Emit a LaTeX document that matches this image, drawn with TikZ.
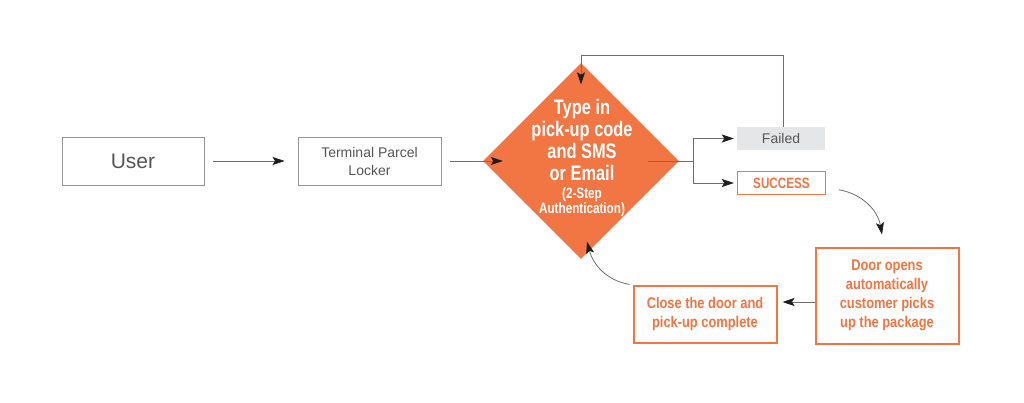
\documentclass[tikz,border=0pt]{standalone}
\usepackage{fontspec}
\setmainfont{Liberation Sans}
\newfontfamily\condbold[FakeStretch=0.83]{Liberation Sans Bold}
\newfontfamily\narrowbold[FakeStretch=0.78]{Liberation Sans Bold}
\usetikzlibrary{shapes.geometric,arrows.meta}
\definecolor{orng}{RGB}{241,118,68}
\definecolor{lgray}{RGB}{229,230,231}
\definecolor{tgray}{RGB}{85,85,85}
\definecolor{bgray}{RGB}{150,150,150}
\definecolor{lnc}{RGB}{110,110,110}
\definecolor{tipc}{RGB}{30,30,30}
\tikzset{
  graybox/.style={draw=bgray, line width=0.9pt, text=tgray, align=center, inner sep=0pt},
  orangebox/.style={draw=orng, line width=2pt, text=orng, align=center, inner sep=0pt, font=\condbold\fontsize{15.5}{19}\selectfont},
  conn/.style={draw=lnc, line width=0.8pt, -{Stealth[length=12pt,width=8pt,inset=2.5pt,color=tipc]}},
}
\begin{document}
\begin{tikzpicture}[x=1pt,y=-1pt]
\fill[white] (0,0) rectangle (1024,403);
\useasboundingbox (0,0) rectangle (1024,403);
% nodes
\node[graybox, minimum width=142pt, minimum height=48pt, font=\fontsize{21}{24}\selectfont] (user) at (133,161) {User};
\node[graybox, minimum width=143pt, minimum height=48pt, font=\fontsize{14}{18}\selectfont] (term) at (369.5,161) {Terminal Parcel\\Locker};
\node[diamond, fill=orng, minimum width=196pt, minimum height=196pt, inner sep=0pt] (dia) at (581,161) {};
\node[text=white, align=center, inner sep=0pt, font=\narrowbold\fontsize{21}{22}\selectfont] (diatext) at (582,140) {Type in\\pick-up code\\and SMS\\or Email};
\node[text=white, align=center, inner sep=0pt, font=\narrowbold\fontsize{15}{15}\selectfont, anchor=north] (diasub) at ([yshift=-7pt]diatext.south) {(2-Step\\Authentication)};
\node[fill=lgray, minimum width=88pt, minimum height=23pt, inner sep=0pt, text=tgray, font=\fontsize{14}{16}\selectfont] (failed) at (781,138.5) {Failed};
\node[draw=orng, line width=1.5pt, minimum width=88pt, minimum height=23pt, inner sep=0pt, text=orng, font=\narrowbold\fontsize{15}{16}\selectfont] (success) at (781.5,183) {SUCCESS};
\node[orangebox, minimum width=143pt, minimum height=96pt] (door) at (887,295.5) {Door opens\\automatically\\customer picks\\up the package};
\node[orangebox, minimum width=143pt, minimum height=57pt] (close) at (705,314) {Close the door and\\pick-up complete};
% helper coordinates
\coordinate (split) at ([xshift=-31pt]dia.east);
\coordinate (branch) at (693,161);
\coordinate (loopL) at (581,55);
\coordinate (dclevel) at (0,302);
% connectors
\draw[conn] ([xshift=9pt]user.east) -- ([xshift=-13pt]term.west);
\draw[conn] ([xshift=9pt]term.east) -- ([xshift=20pt]dia.west);
\draw[draw=lnc, line width=0.8pt] (split) -- (branch);
\draw[conn, shorten >=3pt] (branch) |- (failed.west);
\draw[conn, shorten >=3pt] (branch) |- (success.west);
\draw[conn] ([xshift=2pt]failed.north) |- (loopL) -- ([yshift=-21.5pt]dia.north);
\draw[conn] ([xshift=12.5pt,yshift=5.5pt]success.south east) to[out=-10,in=100] ([xshift=-5pt,yshift=12pt]door.north);
\draw[conn, shorten >=5pt] (door.west |- dclevel) -- (close.east |- dclevel);
\draw[conn] ([xshift=-3pt]close.north west) to[out=170,in=-75] ([xshift=6pt,yshift=17.5pt]dia.south);
\end{tikzpicture}
\end{document}
